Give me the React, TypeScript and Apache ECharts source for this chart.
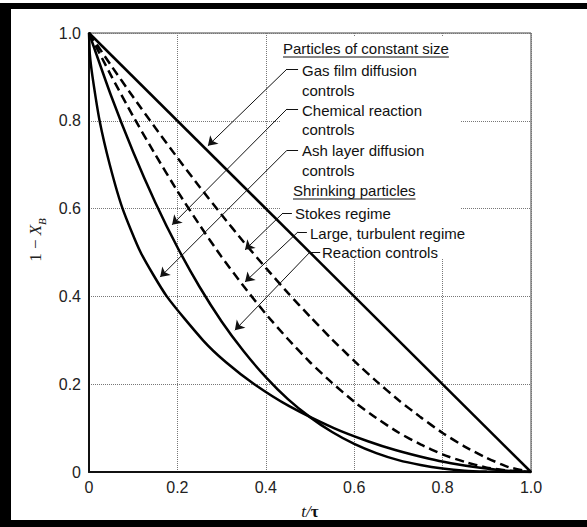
import React, { useEffect, useRef } from "react";
import * as echarts from "echarts";

// ---- data ----
const tGrid = [0, 0.05, 0.1, 0.15, 0.2, 0.25, 0.3, 0.35, 0.4, 0.45, 0.5, 0.55, 0.6, 0.65, 0.7, 0.75, 0.8, 0.85, 0.9, 0.95, 1.0];

const gasFilmT = [0, 1];
const gasFilmY = [1, 0];

const chemicalReactionY = [1, 0.857, 0.729, 0.614, 0.512, 0.422, 0.343, 0.275, 0.216, 0.166, 0.125, 0.091, 0.064, 0.043, 0.027, 0.016, 0.008, 0.003, 0.001, 0.0001, 0];

const stokesRegimeY = [1, 0.926, 0.854, 0.784, 0.716, 0.65, 0.586, 0.524, 0.465, 0.408, 0.354, 0.302, 0.253, 0.207, 0.164, 0.125, 0.089, 0.058, 0.032, 0.011, 0];

const turbulentRegimeY = [1, 0.903, 0.81, 0.723, 0.64, 0.563, 0.49, 0.423, 0.36, 0.303, 0.25, 0.203, 0.16, 0.123, 0.09, 0.063, 0.04, 0.023, 0.01, 0.003, 0];

const ashLayerT = [0, 0.002, 0.008, 0.024, 0.047, 0.076, 0.117, 0.176, 0.258, 0.31, 0.374, 0.453, 0.554, 0.631, 0.693, 0.77, 0.819, 0.881, 0.922, 0.956, 1];
const ashLayerY = [1, 0.95, 0.9, 0.8, 0.7, 0.6, 0.5, 0.4, 0.3, 0.25, 0.2, 0.15, 0.1, 0.07, 0.05, 0.03, 0.02, 0.01, 0.005, 0.002, 0];

// annotation leaders (data coordinates)
const leaderEnds = [[0.473, 0.918], [0.473, 0.827], [0.473, 0.733], [0.459, 0.59], [0.493, 0.547], [0.523, 0.501]];
const leaderCorners = [[0.448, 0.918], [0.448, 0.827], [0.448, 0.733], [0.439, 0.59], [0.473, 0.547], [0.5, 0.501]];
const arrowTips = [[0.269, 0.743], [0.188, 0.563], [0.161, 0.444], [0.353, 0.506], [0.353, 0.433], [0.33, 0.323]];

const annotationLines = [
  { text: "Particles of constant size", x: 283, y: 48, underline: true },
  { text: "Gas film diffusion", x: 302, y: 70 },
  { text: "controls", x: 302, y: 90 },
  { text: "Chemical reaction", x: 302, y: 110 },
  { text: "controls", x: 302, y: 129 },
  { text: "Ash layer diffusion", x: 302, y: 150 },
  { text: "controls", x: 302, y: 170 },
  { text: "Shrinking particles", x: 293, y: 190, underline: true },
  { text: "Stokes regime", x: 295, y: 213 },
  { text: "Large, turbulent regime", x: 310, y: 233 },
  { text: "Reaction controls", x: 322, y: 252 },
];

const SANS = '"Liberation Sans", Arial, sans-serif';
const SERIF = '"Liberation Serif", "Times New Roman", serif';
const ANN_SIZE = 15;

function zip(xs: number[], ys: number[]) {
  return xs.map((x, i) => [x, ys[i]]);
}

export default function App() {
  const ref = useRef<HTMLDivElement>(null);
  useEffect(() => {
    document.body.style.margin = "0";
    if (!ref.current) return;
    const chart = echarts.init(ref.current, undefined, { renderer: "svg" });

    const canvas = document.createElement("canvas");
    const ctx = canvas.getContext("2d")!;
    ctx.font = `${ANN_SIZE}px ${SANS}`;

    const graphics: any[] = [
      // outer black frame pieces
      { type: "rect", shape: { x: 0, y: 3, width: 587, height: 6 }, style: { fill: "#000" }, z: 20 },
      { type: "rect", shape: { x: 0, y: 3, width: 11, height: 524 }, style: { fill: "#000" }, z: 20 },
      { type: "rect", shape: { x: 0, y: 520, width: 587, height: 7 }, style: { fill: "#000" }, z: 20 },
      // white box behind annotation text (hides grid lines)
      { type: "rect", shape: { x: 281, y: 37, width: 179, height: 222 }, style: { fill: "#fff" }, z: 1 },
      // y-axis name
      {
        type: "text",
        x: 35,
        y: 240,
        rotation: Math.PI / 2,
        z: 10,
        style: {
          text: "{n|1 − }{x|X}{s|B}",
          align: "center",
          verticalAlign: "middle",
          textAlign: "center",
          textVerticalAlign: "middle",
          rich: {
            n: { fontFamily: SERIF, fontSize: 17, fill: "#222", lineHeight: 24 },
            x: { fontFamily: SERIF, fontSize: 17, fontStyle: "italic", fill: "#222", lineHeight: 24 },
            s: { fontFamily: SERIF, fontSize: 11, fontStyle: "italic", fill: "#222", lineHeight: 24, verticalAlign: "bottom" },
          },
        },
      },
    ];

    annotationLines.forEach((a) => {
      graphics.push({
        type: "text",
        x: a.x,
        y: a.y,
        z: 10,
        style: {
          text: a.text,
          font: `${ANN_SIZE}px ${SANS}`,
          fill: "#111",
          align: "left",
          verticalAlign: "middle",
          textAlign: "left",
          textVerticalAlign: "middle",
        },
      });
      if (a.underline) {
        const w = ctx.measureText(a.text).width;
        graphics.push({
          type: "line",
          z: 10,
          shape: { x1: a.x, y1: a.y + 9, x2: a.x + w, y2: a.y + 9 },
          style: { stroke: "#111", lineWidth: 1 },
        });
      }
    });

    const curveStyle = { color: "#000", width: 2.5 };
    const gridLine = { show: true, lineStyle: { color: "#777", type: [1, 1], width: 1 } };

    chart.setOption({
      animation: false,
      backgroundColor: "#fff",
      grid: {
        left: 89,
        right: 56,
        top: 33,
        bottom: 55,
        show: true,
        borderColor: "#444",
        borderWidth: 1,
        outerBoundsMode: "none",
      },
      xAxis: {
        type: "value",
        min: 0,
        max: 1,
        interval: 0.2,
        z: 0,
        axisLine: { show: true, onZero: false, lineStyle: { color: "#111", width: 2 } },
        axisTick: { show: false },
        splitLine: gridLine,
        axisLabel: {
          margin: 7,
          fontFamily: SANS,
          fontSize: 16,
          color: "#222",
          formatter: (v: number) => (v === 0 ? "0" : v.toFixed(1)),
        },
        name: "{i|t/}{b|τ}",
        nameLocation: "middle",
        nameGap: 31,
        nameTextStyle: {
          rich: {
            i: { fontFamily: SERIF, fontStyle: "italic", fontSize: 17, color: "#111" },
            b: { fontFamily: SERIF, fontWeight: "bold", fontSize: 17, color: "#111" },
          },
        },
      },
      yAxis: {
        type: "value",
        min: 0,
        max: 1,
        interval: 0.2,
        z: 0,
        axisLine: { show: true, onZero: false, lineStyle: { color: "#111", width: 2 } },
        axisTick: { show: false },
        splitLine: gridLine,
        axisLabel: {
          margin: 8,
          fontFamily: SANS,
          fontSize: 16,
          color: "#222",
          formatter: (v: number) => (v === 0 ? "0" : v.toFixed(1)),
        },
      },
      graphic: graphics,
      series: [
        {
          name: "Gas film diffusion controls",
          type: "line",
          data: zip(gasFilmT, gasFilmY),
          symbol: "none",
          lineStyle: curveStyle,
          z: 3,
        },
        {
          name: "Chemical reaction controls",
          type: "line",
          data: zip(tGrid, chemicalReactionY),
          symbol: "none",
          smooth: 0.2,
          lineStyle: curveStyle,
          z: 3,
        },
        {
          name: "Ash layer diffusion controls",
          type: "line",
          data: zip(ashLayerT, ashLayerY),
          symbol: "none",
          smooth: 0.2,
          lineStyle: curveStyle,
          z: 3,
        },
        {
          name: "Stokes regime",
          type: "line",
          data: zip(tGrid, stokesRegimeY),
          symbol: "none",
          smooth: 0.2,
          lineStyle: { ...curveStyle, type: [9, 5] },
          z: 3,
        },
        {
          name: "Large, turbulent regime",
          type: "line",
          data: zip(tGrid, turbulentRegimeY),
          symbol: "none",
          smooth: 0.2,
          lineStyle: { ...curveStyle, type: [9, 5] },
          z: 3,
        },
        {
          name: "leader-dash",
          type: "lines",
          coordinateSystem: "cartesian2d",
          symbol: ["none", "none"],
          lineStyle: { color: "#111", width: 1, opacity: 1 },
          data: leaderEnds.map((e, i) => ({ coords: [e, leaderCorners[i]] })),
          z: 4,
        },
        {
          name: "leader-arrow",
          type: "lines",
          coordinateSystem: "cartesian2d",
          symbol: ["none", "arrow"],
          symbolSize: [5, 9],
          lineStyle: { color: "#111", width: 1, opacity: 1 },
          itemStyle: { color: "#111" },
          data: leaderCorners.map((c, i) => ({ coords: [c, arrowTips[i]] })),
          z: 4,
        },
      ],
    });
    return () => chart.dispose();
  }, []);
  return <div ref={ref} style={{ width: 587, height: 527 }} />;
}
